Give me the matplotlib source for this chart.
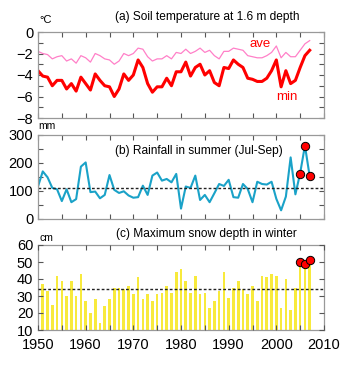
import numpy as np
import matplotlib
matplotlib.use('Agg')
import matplotlib.pyplot as plt
from matplotlib.ticker import MultipleLocator

plt.rcParams['font.family'] = ['Liberation Sans', 'DejaVu Sans']

years = np.arange(1950, 2008)

# (a) soil temperature at 1.6 m, degC
t_min = [-3.6, -4.1, -4.2, -5.0, -4.5, -4.5, -5.3, -4.8, -5.5, -4.2,
         -4.8, -5.4, -3.9, -4.5, -5.0, -5.1, -6.0, -5.3, -3.9, -4.5,
         -4.0, -2.6, -3.3, -4.8, -5.6, -5.1, -5.1, -4.3, -5.0, -3.7,
         -3.7, -2.8, -4.1, -3.3, -3.0, -4.0, -3.6, -4.7, -5.0, -3.3,
         -3.4, -2.6, -3.0, -3.3, -4.3, -4.4, -4.6, -4.6, -4.3, -3.6,
         -2.6, -5.1, -3.6, -4.8, -4.5, -3.3, -2.2, -1.7]
t_ave = [-1.8, -2.0, -2.1, -2.5, -2.3, -2.2, -2.7, -2.5, -2.9, -2.2,
         -2.4, -2.8, -2.0, -2.2, -2.5, -2.6, -3.0, -2.7, -2.0, -2.2,
         -2.0, -1.5, -1.6, -2.3, -2.7, -2.5, -2.5, -2.2, -2.5, -1.9,
         -2.0, -1.6, -2.0, -1.8, -1.5, -1.9, -1.7, -2.2, -2.5, -1.8,
         -1.8, -1.5, -1.6, -1.7, -2.2, -2.3, -2.4, -2.4, -2.2, -1.9,
         -1.3, -2.4, -1.9, -2.3, -2.3, -1.7, -1.1, -0.8]

# (b) summer rainfall Jul-Sep, mm
rain = [116, 170, 149, 111, 106, 64, 106, 60, 71, 187,
        202, 96, 98, 74, 86, 157, 104, 93, 99, 84,
        76, 78, 119, 86, 155, 166, 137, 143, 131, 161,
        37, 116, 111, 155, 68, 86, 60, 92, 125, 118,
        140, 78, 76, 125, 107, 60, 133, 125, 123, 133,
        72, 31, 80, 220, 88, 164, 262, 152]
rain_mean = 111
rain_hi_years = [2005, 2006, 2007]
rain_hi = [160, 262, 152]

# (c) maximum snow depth in winter, cm
snow = [22, 37, 33, 25, 42, 39, 30, 39, 30, 43,
        27, 20, 28, 14, 24, 28, 35, 35, 34, 36,
        31, 41, 28, 31, 27, 31, 32, 36, 32, 44,
        46, 39, 32, 42, 31, 32, 23, 27, 33, 44,
        29, 35, 39, 34, 31, 36, 27, 42, 41, 43,
        42, 23, 40, 22, 35, 50, 49, 51]
snow_mean = 34
snow_hi_years = [2005, 2006, 2007]
snow_hi = [50, 49, 51]

W, H = 351, 365
fig = plt.figure(figsize=(W / 100, H / 100), dpi=100)
fig.patch.set_facecolor('white')

def px_axes(top, bottom, left=38, right=324):
    return fig.add_axes([left / W, 1 - bottom / H, (right - left) / W, (bottom - top) / H])

ax1 = px_axes(32, 118)
ax2 = px_axes(135, 219)
ax3 = px_axes(245, 330)

for ax in [ax1, ax2, ax3]:
    for s in ax.spines.values():
        s.set_color('#999999')
        s.set_linewidth(0.9)
    ax.set_xlim(1950, 2010)
    ax.xaxis.set_major_locator(MultipleLocator(10))
    ax.xaxis.set_minor_locator(MultipleLocator(5))
    ax.tick_params(which='both', direction='in', top=True, right=True,
                   length=3.5, width=0.8, color='#555555', labelsize=10.5)
    ax.tick_params(axis='y', pad=3.5)
    ax.tick_params(axis='x', pad=6)

# (a)
ax1.plot(years, t_ave, color='#ff80c8', lw=0.9)
ax1.plot(years, t_min, color='#ff0000', lw=2.2)
ax1.set_ylim(-8, 0)
ax1.yaxis.set_major_locator(MultipleLocator(2))
ax1.yaxis.set_minor_locator(MultipleLocator(1))
ax1.tick_params(labelbottom=False)
ax1.text(1996.5, -1.15, 'ave', color='#ff0000', fontsize=9.5, ha='center', va='center')
ax1.text(2002.2, -6.0, 'min', color='#ff0000', fontsize=9.5, ha='center', va='center')

# (b)
ax2.plot(years, rain, color='#1aa2c8', lw=1.5)
ax2.axhline(rain_mean, color='#222222', lw=1.0, ls=(0, (2, 1.5)))
ax2.plot(rain_hi_years, rain_hi, 'o', color='#ff0000', mec='black', mew=0.7, ms=6, zorder=5)
ax2.set_ylim(0, 300)
ax2.yaxis.set_major_locator(MultipleLocator(100))
ax2.yaxis.set_minor_locator(MultipleLocator(50))
ax2.tick_params(labelbottom=False)

# (c)
ax3.bar(years, snow, width=0.55, color='#f8ea3c', zorder=1)
ax3.axhline(snow_mean, color='#222222', lw=1.0, ls=(0, (2, 1.5)), zorder=3)
ax3.plot(snow_hi_years, snow_hi, 'o', color='#ff0000', mec='black', mew=0.7, ms=6, zorder=5)
ax3.set_ylim(10, 60)
ax3.yaxis.set_major_locator(MultipleLocator(10))
ax3.set_axisbelow(False)

def ftext(x, y, s, **kw):
    fig.text(x / W, 1 - y / H, s, **kw)

ftext(39, 20, '°C', fontsize=8, ha='left', va='center')
ftext(207, 17, '(a) Soil temperature at 1.6 m depth', fontsize=8.6, ha='center', va='center')
ftext(38, 126, 'mm', fontsize=7.5, ha='left', va='center')
ftext(199, 151, '(b) Rainfall in summer (Jul-Sep)', fontsize=8.6, ha='center', va='center')
ftext(39, 238, 'cm', fontsize=7.5, ha='left', va='center')
ftext(206, 234, '(c) Maximum snow depth in winter', fontsize=8.6, ha='center', va='center')

fig.savefig('out.png', dpi=100)
